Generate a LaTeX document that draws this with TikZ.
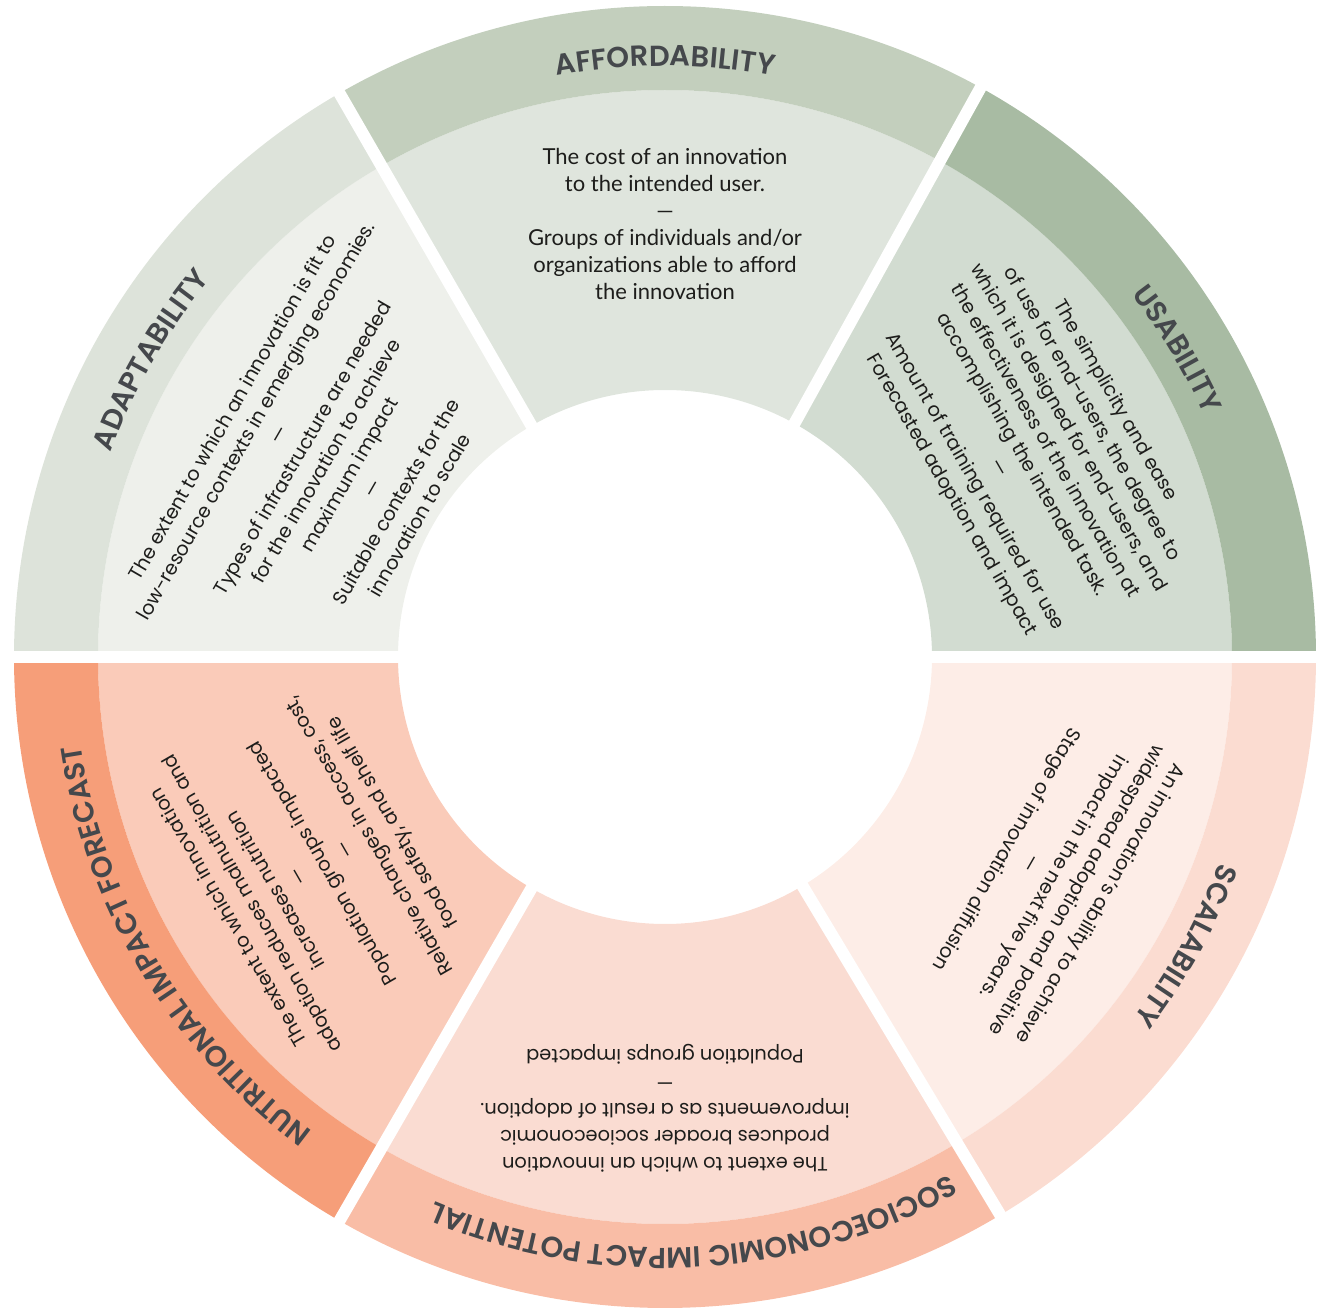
\documentclass[tikz,border=0pt]{standalone}
\usepackage{fontspec}
\setmainfont{Poppins}
\newfontfamily\costfont{Lato}
\IfFontExistsTF{Poppins SemiBold}{\newfontfamily\titlefont{Poppins SemiBold}}{\newfontfamily\titlefont{Poppins}[UprightFont=*Bold]}
\usetikzlibrary{decorations.text}
\definecolor{affout}{HTML}{C3CFBD}
\definecolor{affin}{HTML}{DFE5DD}
\definecolor{usaout}{HTML}{A8BBA3}
\definecolor{usain}{HTML}{D2DCD1}
\definecolor{adaout}{HTML}{DDE3DA}
\definecolor{adain}{HTML}{EEF0EB}
\definecolor{nutout}{HTML}{F69E79}
\definecolor{nutin}{HTML}{FACBB9}
\definecolor{socout}{HTML}{F9BDA6}
\definecolor{socin}{HTML}{FADCD2}
\definecolor{scaout}{HTML}{FBDCD1}
\definecolor{scain}{HTML}{FDEDE7}
\definecolor{titlegray}{HTML}{45484C}
\definecolor{bodyblack}{HTML}{1D1D1B}
\newcommand{\ringtitle}[3]{%
	\path [decorate, decoration={text along path, text align=center,
		text={|\titlefont\fontsize{14.5}{17}\selectfont\color{titlegray}|#3}}]
		(#1:591) arc (#1:#2:591);
}
\begin{document}
\begin{tikzpicture}[x=0.5pt, y=0.5pt,
	body/.style={align=center, inner sep=0pt, text=bodyblack, font=\fontsize{9.7}{13.5}\selectfont},
	costbody/.style={body, font=\costfont\fontsize{11}{13.5}\selectfont}]
	\useasboundingbox (-665,-652) rectangle (657,657);
	\foreach \a/\b/\c/\d in {0/61/usaout/usain, 61/120/affout/affin, 120/180/adaout/adain,
		180/240/nutout/nutin, 240/301/socout/socin, 301/360/scaout/scain} {
		\fill [\d] (\a:267) arc (\a:\b:267) -- (\b:567) arc (\b:\a:567) -- cycle;
		\fill [\c] (\a:567) arc (\a:\b:567) -- (\b:651) arc (\b:\a:651) -- cycle;
	}
	\foreach \a in {0, 61, 120, 180, 240, 301} {
		\draw [white, line width=6pt] (0,0) -- (\a:670);
	}
	\ringtitle{115}{65}{AFFORDABILITY}
	\ringtitle{56}{6}{USABILITY}
	\ringtitle{-5}{-53}{SCALABILITY}
	\ringtitle{-56}{-118}{SOCIOECONOMIC IMPACT POTENTIAL}
	\ringtitle{-121}{-177}{NUTRITIONAL IMPACT FORECAST}
	\ringtitle{175}{125}{ADAPTABILITY}
	\node [costbody] (afford) at (90:433) {The cost of an innovation\\to the intended user.\\—\\Groups of individuals and/or\\organizations able to afford\\the innovation};
	\node [body, rotate=-60] (usable) at (29.6:423) {The simplicity and ease\\of use for end-users, the degree to\\which it is designed for end-users, and\\the effectiveness of the innovation at\\accomplishing the intended task.\\—\\Amount of training required for use\\Forecasted adoption and impact};
	\node [body, rotate=-120] (scale) at (-29.5:445) {An innovation’s ability to achieve\\widespread adoption and positive\\impact in the next five years.\\—\\Stage of innovation diffusion};
	\node [body, rotate=180] (socio) at (-90:451) {The extent to which an innovation\\produces broader socioeconomic\\improvements as a result of adoption.\\—\\Population groups impacted};
	\node [body, rotate=120] (nutri) at (211:412) {The extent to which innovation\\adoption reduces malnutrition and\\increases nutrition\\—\\Population groups impacted\\—\\Relative changes in access, cost,\\food safety, and shelf life};
	\node [body, rotate=60] (adapt) at (150:392) {The extent to which an innovation is fit to\\low-resource contexts in emerging economies.\\—\\Types of infrastructure are needed\\for the innovation to achieve\\maximum impact\\—\\Suitable contexts for the\\innovation to scale};
\end{tikzpicture}
\end{document}
